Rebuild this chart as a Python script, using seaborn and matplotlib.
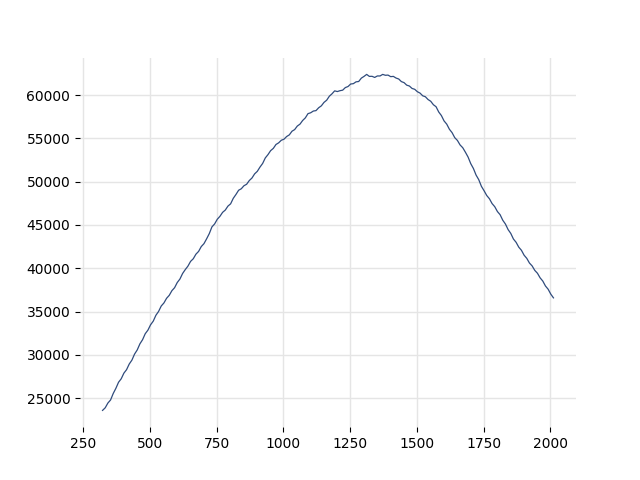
import numpy as np
import pandas as pd
import matplotlib
matplotlib.use("Agg")
import matplotlib.pyplot as plt
import seaborn as sns

# values (one sample every 10 units of x, starting at 322)
x_start = 322
x_step = 10
y_values = [
    23600, 23900, 24450, 24800, 25550, 26150, 26850, 27250, 27900, 28300,
    28950, 29400, 30100, 30580, 31280, 31760, 32450, 32860, 33480, 33900,
    34580, 35020, 35650, 36000, 36540, 36880, 37420, 37760, 38360, 38760,
    39400, 39850, 40250, 40800, 41100, 41630, 41950, 42510, 42840, 43400,
    44000, 44780, 45120, 45660, 46000, 46460, 46720, 47180, 47440, 48080,
    48520, 49010, 49180, 49530, 49700, 50130, 50420, 50900, 51190, 51680,
    52100, 52740, 53120, 53580, 53840, 54290, 54480, 54780, 54900, 55210,
    55400, 55820, 56010, 56420, 56640, 57060, 57360, 57850, 57950, 58150,
    58200, 58530, 58750, 59150, 59400, 59860, 60140, 60480, 60400, 60500,
    60560, 60860, 60980, 61270, 61310, 61520, 61560, 61950, 62150, 62380,
    62150, 62160, 62030, 62200, 62200, 62380, 62280, 62300, 62120, 62150,
    61960, 61850, 61550, 61430, 61140, 61040, 60760, 60660, 60380, 60220,
    59910, 59800, 59480, 59280, 58880, 58650, 58040, 57630, 57010, 56640,
    56050, 55660, 55080, 54760, 54240, 53920, 53400, 52840, 52080, 51520,
    50760, 50230, 49460, 48950, 48400, 48030, 47470, 47110, 46550, 46190,
    45550, 45110, 44470, 44030, 43380, 43000, 42440, 42080, 41510, 41150,
    40610, 40280, 39760, 39430, 38900, 38530, 37960, 37590, 37020, 36590,
]
x_values = np.arange(len(y_values)) * x_step + x_start

df = pd.DataFrame({"x": x_values, "y": y_values})

fig, ax = plt.subplots(figsize=(6.4, 4.8), dpi=100)
sns.lineplot(data=df, x="x", y="y", ax=ax, color="#2f4b7c", linewidth=0.9)

ax.set_xlabel("")
ax.set_ylabel("")
ax.set_xticks([250, 500, 750, 1000, 1250, 1500, 1750, 2000])
ax.set_yticks([25000, 30000, 35000, 40000, 45000, 50000, 55000, 60000])
ax.grid(True, color="#e5e5e5", linewidth=1.0)
ax.set_axisbelow(True)
for s in ax.spines.values():
    s.set_visible(False)

fig.savefig("out.png", dpi=100)
